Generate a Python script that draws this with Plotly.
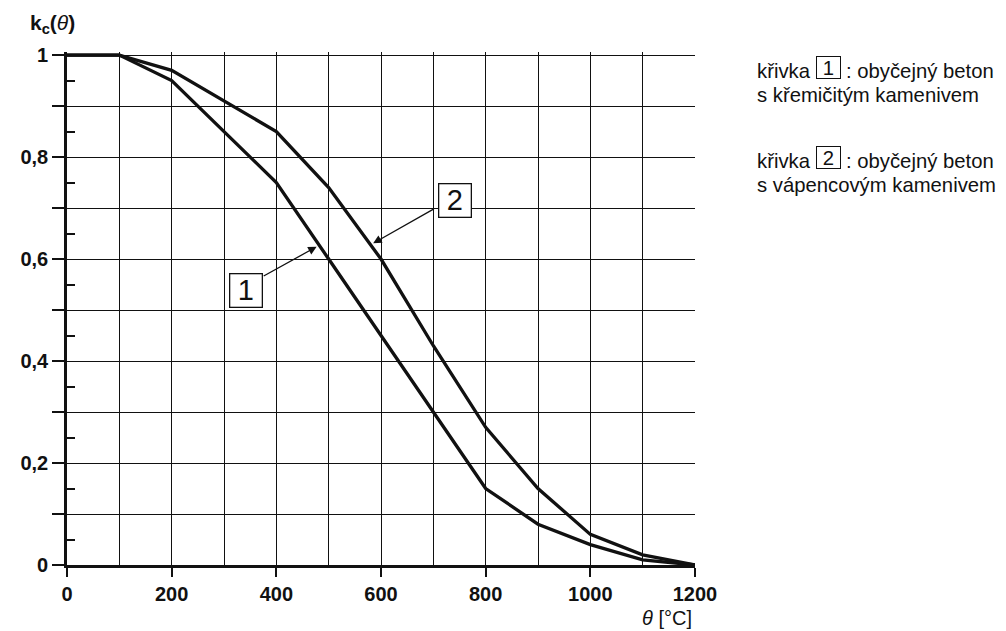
import plotly.graph_objects as go
import numpy as np

# ---- data ----
temps = [0, 100, 200, 300, 400, 500, 600, 700, 800, 900, 1000, 1100, 1200]
k_curve1 = [1.0, 1.0, 0.95, 0.85, 0.75, 0.60, 0.45, 0.30, 0.15, 0.08, 0.04, 0.01, 0.0]
k_curve2 = [1.0, 1.0, 0.97, 0.91, 0.85, 0.74, 0.60, 0.43, 0.27, 0.15, 0.06, 0.02, 0.0]

x_tick_vals = [0, 200, 400, 600, 800, 1000, 1200]
x_tick_labels = ["0", "200", "400", "600", "800", "1000", "1200"]
x_minor_vals = [100, 300, 500, 700, 900, 1100]
y_tick_vals = [0, 0.2, 0.4, 0.6, 0.8, 1.0]
y_tick_labels = ["0", "0,2", "0,4", "0,6", "0,8", "1"]
y_minor_vals = [0.1, 0.3, 0.5, 0.7, 0.9]
y_inner_vals = [0.05, 0.15, 0.25, 0.35, 0.45, 0.55, 0.65, 0.75, 0.85, 0.95]

legend_entries = [
    ("křivka", "1", ": obyčejný beton", "s křemičitým kamenivem"),
    ("křivka", "2", ": obyčejný beton", "s vápencovým kamenivem"),
]
curve_labels = ["1", "2"]
arrow_tip_x = [482, 580]          # where the callout arrows touch the curves
label_box_x = [342, 742]          # callout box centres (data units)
label_box_y = [0.539, 0.715]
arrow_tail_x = [373, 704]         # arrow start at the box corner (data units)
arrow_tail_y = [0.565, 0.700]

# ---- layout geometry (screen pixels; page body has an 8px margin) ----
OFF = 8
SCR_W, SCR_H = 1006, 631
L, R, T, B = 61, 695, 52, 565
PW, PH = R - L, B - T
FIG_W, FIG_H = SCR_W - OFF, SCR_H - OFF

def px(x):
    return (x - L) / PW

def py(y):
    return (B - y) / PH

FONT = "Liberation Sans, Arial, sans-serif"
INK = "#111111"

fig = go.Figure()
fig.add_trace(go.Scatter(x=temps, y=k_curve1, mode="lines",
                         line=dict(color=INK, width=3.3), cliponaxis=False,
                         showlegend=False, hoverinfo="skip"))
fig.add_trace(go.Scatter(x=temps, y=k_curve2, mode="lines",
                         line=dict(color=INK, width=3.3), cliponaxis=False,
                         showlegend=False, hoverinfo="skip"))
# helper trace so that the overlaid tick axis is drawn
fig.add_trace(go.Scatter(x=[None], y=[None], yaxis="y2", mode="lines",
                         showlegend=False, hoverinfo="skip"))

annotations = []
# callout arrows and boxes
for i, (curve, txt) in enumerate(zip([k_curve1, k_curve2], curve_labels)):
    xt = arrow_tip_x[i]
    yt = float(np.interp(xt, temps, curve))
    annotations.append(dict(
        x=xt, y=yt, xref="x", yref="y", text="", showarrow=True,
        ax=arrow_tail_x[i], ay=arrow_tail_y[i], axref="x", ayref="y",
        arrowhead=2, arrowsize=1.3, arrowwidth=1.3, arrowcolor=INK,
        standoff=3, startstandoff=0))
    annotations.append(dict(
        x=label_box_x[i], y=label_box_y[i], xref="x", yref="y", text=txt,
        showarrow=False, xanchor="center", yanchor="middle",
        font=dict(family=FONT, size=29, color=INK),
        bordercolor=INK, borderwidth=1.3, borderpad=1, bgcolor="white",
        width=29, height=30, align="center"))

# legend text on the right
FS = 20.3
entry_tops = [70.5, 160.5]
for (w1, num, rest, line2), yc in zip(legend_entries, entry_tops):
    annotations.append(dict(x=px(756), y=py(yc), xref="paper", yref="paper",
                            xanchor="left", yanchor="middle", showarrow=False,
                            text=w1, font=dict(family=FONT, size=FS, color=INK)))
    annotations.append(dict(x=px(829.5), y=py(yc - 3), xref="paper", yref="paper",
                            xanchor="center", yanchor="middle", showarrow=False,
                            text=num, font=dict(family=FONT, size=FS, color=INK),
                            bordercolor=INK, borderwidth=1, borderpad=0,
                            width=23, height=21))
    annotations.append(dict(x=px(845), y=py(yc), xref="paper", yref="paper",
                            xanchor="left", yanchor="middle", showarrow=False,
                            text=rest, font=dict(family=FONT, size=FS, color=INK)))
    annotations.append(dict(x=px(756), y=py(yc + 24), xref="paper", yref="paper",
                            xanchor="left", yanchor="middle", showarrow=False,
                            text=line2, font=dict(family=FONT, size=FS, color=INK)))

# axis titles
annotations.append(dict(x=px(22), y=py(24), xref="paper", yref="paper",
                        xanchor="left", yanchor="middle", showarrow=False,
                        text="<b>k</b><sub><b>c</b></sub><b>(</b><i>θ</i><b>)</b>",
                        font=dict(family=FONT, size=21, color=INK)))
annotations.append(dict(x=px(694), y=py(618), xref="paper", yref="paper",
                        xanchor="right", yanchor="middle", showarrow=False,
                        text="<i>θ</i> [°C]",
                        font=dict(family=FONT, size=20, color=INK)))

YRANGE = [0, 1.006]
fig.update_layout(
    width=FIG_W, height=FIG_H,
    margin=dict(l=L - OFF, r=SCR_W - R, t=T - OFF, b=SCR_H - B, pad=0),
    paper_bgcolor="white", plot_bgcolor="white",
    showlegend=False,
    annotations=annotations,
    xaxis=dict(
        range=[0, 1200], tickmode="array", tickvals=x_tick_vals, ticktext=x_tick_labels,
        ticks="outside", ticklen=9, tickwidth=2, tickcolor=INK,
        showgrid=True, gridcolor=INK, gridwidth=1.4,
        showline=True, linecolor=INK, linewidth=2.6, zeroline=False,
        tickfont=dict(family=FONT, size=20, color=INK, weight="bold"),
        minor=dict(tickvals=x_minor_vals, showgrid=True, gridcolor=INK,
                   gridwidth=1.4, ticks=""),
    ),
    yaxis=dict(
        range=YRANGE, tickmode="array", tickvals=y_tick_vals, ticktext=y_tick_labels,
        ticks="outside", ticklen=12, tickwidth=1.6, tickcolor=INK,
        showgrid=True, gridcolor=INK, gridwidth=1.4,
        showline=True, linecolor=INK, linewidth=2.6, zeroline=False,
        tickfont=dict(family=FONT, size=20, color=INK, weight="bold"),
        minor=dict(tickvals=y_minor_vals, ticks="outside", ticklen=12,
                   tickwidth=1.6, tickcolor=INK, showgrid=True,
                   gridcolor=INK, gridwidth=1.4),
    ),
    yaxis2=dict(
        overlaying="y", side="left", range=YRANGE, tickmode="array",
        tickvals=y_inner_vals, ticks="inside", ticklen=8, tickwidth=1.6,
        tickcolor=INK, showticklabels=False, showgrid=False, showline=False,
        zeroline=False,
    ),
)

fig.write_html("out.html")
